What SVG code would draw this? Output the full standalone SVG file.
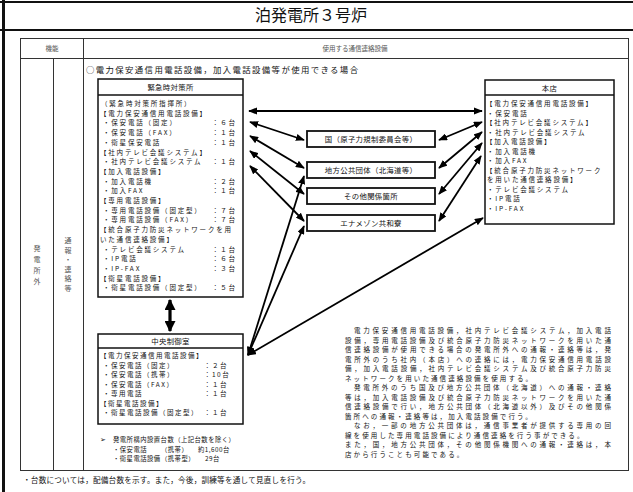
<svg xmlns="http://www.w3.org/2000/svg" width="633" height="492" viewBox="0 0 633 492">
<defs>
<marker id="ah" viewBox="0 0 10 8" refX="9" refY="4" markerWidth="9" markerHeight="7.2" markerUnits="userSpaceOnUse" orient="auto-start-reverse">
<path d="M0,0 L10,4 L0,8 z" fill="#000"/>
</marker>
<marker id="ahb" viewBox="0 0 10 10" refX="9" refY="5" markerWidth="11" markerHeight="11" markerUnits="userSpaceOnUse" orient="auto-start-reverse">
<path d="M0,0 L10,5 L0,10 z" fill="#000"/>
</marker>
<style>
text { font-family: "Noto Sans CJK JP", "Noto Sans", sans-serif; fill: #111; }
.s { font-size: 6.5px; letter-spacing: 1.8px; }
.c { font-size: 6.5px; letter-spacing: 1.5px; }
.n { font-size: 6.3px; letter-spacing: 0.5px; }
.p { font-size: 6.5px; letter-spacing: 2.1px; }
.lbl { font-size: 7.4px; text-anchor: middle; letter-spacing: 0.3px; }
.hd { font-size: 6.5px; fill: #555; text-anchor: middle; }
.vt { font-size: 7px; fill: #555; }
.box { fill: #fff; stroke: #111; stroke-width: 1.5; }
.mbox { fill: #fff; stroke: #111; stroke-width: 1.8; }
.grid { fill: none; stroke: #333; stroke-width: 1; }
.arr { fill: none; stroke: #000; stroke-width: 1.8; marker-start: url(#ah); marker-end: url(#ah); }
</style>
</defs>
<rect x="0" y="0" width="633" height="492" fill="#fff"/>

<g id="frame">
<line x1="0" y1="2" x2="633" y2="2" stroke="#111" stroke-width="2"/>
<line x1="0" y1="30" x2="633" y2="30" stroke="#111" stroke-width="2.2"/>
<line x1="3.5" y1="0" x2="3.5" y2="492" stroke="#111" stroke-width="3"/>
<text x="311" y="21" font-size="16" text-anchor="middle">泊発電所３号炉</text>
</g>

<g id="table">
<rect class="grid" x="20.5" y="38.5" width="608" height="432"/>
<line class="grid" x1="20.5" y1="58.5" x2="628.5" y2="58.5"/>
<line class="grid" x1="83.5" y1="38.5" x2="83.5" y2="470.5"/>
<line class="grid" x1="53.5" y1="58.5" x2="53.5" y2="470.5"/>
<text class="hd" x="52" y="51">機能</text>
<text class="hd" x="355" y="51">使用する通信連絡設備</text>
<text class="vt" x="37" y="245" writing-mode="tb" letter-spacing="4">発電所外</text>
<text class="vt" x="68" y="237" writing-mode="tb" letter-spacing="2.5">通報・連絡等</text>
<text x="86" y="73" font-size="8.4" textLength="272" lengthAdjust="spacing">○電力保安通信用電話設備，加入電話設備等が使用できる場合</text>
<text x="23" y="483" font-size="7.6" textLength="287" lengthAdjust="spacing">・台数については，配備台数を示す。また，今後，訓練等を通して見直しを行う。</text>
</g>

<g id="node-kinkyu">
<rect class="box" x="98" y="79" width="145" height="218"/>
<line x1="98" y1="95" x2="243" y2="95" stroke="#111" stroke-width="1.5"/>
<text class="lbl" x="170.5" y="90">緊急時対策所</text>
<text class="s" x="101" y="106">（緊急時対策所指揮所）</text>
<text class="s" x="100" y="115.7">【電力保安通信用電話設備】</text>
<text class="s" x="103" y="125.4">・保安電話（固定）</text><text class="s" x="212" y="125.4">：６台</text>
<text class="s" x="103" y="135.1">・保安電話（FAX）</text><text class="s" x="212" y="135.1">：１台</text>
<text class="s" x="103" y="144.8">・衛星保安電話</text><text class="s" x="212" y="144.8">：１台</text>
<text class="s" x="100" y="154.5">【社内テレビ会議システム】</text>
<text class="s" x="103" y="164.2">・社内テレビ会議システム</text><text class="s" x="212" y="164.2">：１台</text>
<text class="s" x="100" y="173.9">【加入電話設備】</text>
<text class="s" x="103" y="183.6">・加入電話機</text><text class="s" x="212" y="183.6">：２台</text>
<text class="s" x="103" y="193.3">・加入FAX</text><text class="s" x="212" y="193.3">：１台</text>
<text class="s" x="100" y="203">【専用電話設備】</text>
<text class="s" x="103" y="212.7">・専用電話設備（固定型）</text><text class="s" x="212" y="212.7">：７台</text>
<text class="s" x="103" y="222.4">・専用電話設備（FAX）</text><text class="s" x="212" y="222.4">：７台</text>
<text class="s" x="100" y="232.1">【統合原子力防災ネットワークを用</text>
<text class="s" x="100" y="241.8">いた通信連絡設備】</text>
<text class="s" x="103" y="251.5">・テレビ会議システム</text><text class="s" x="212" y="251.5">：１台</text>
<text class="s" x="103" y="261.2">・IP電話</text><text class="s" x="212" y="261.2">：６台</text>
<text class="s" x="103" y="270.9">・IP-FAX</text><text class="s" x="212" y="270.9">：３台</text>
<text class="s" x="100" y="280.6">【衛星電話設備】</text>
<text class="s" x="103" y="290.3">・衛星電話設備（固定型）</text><text class="s" x="212" y="290.3">：５台</text>
</g>

<g id="node-chuo">
<rect class="box" x="98" y="334" width="145" height="90"/>
<line x1="98" y1="348" x2="243" y2="348" stroke="#111" stroke-width="1.5"/>
<text class="lbl" x="170.5" y="344">中央制御室</text>
<text class="c" x="100" y="358">【電力保安通信用電話設備】</text>
<text class="c" x="103" y="367.5">・保安電話（固定）</text><text class="c" x="204" y="367.5">：２台</text>
<text class="c" x="103" y="377">・保安電話（携帯）</text><text class="c" x="204" y="377">：10台</text>
<text class="c" x="103" y="386.5">・保安電話（FAX）</text><text class="c" x="204" y="386.5">：１台</text>
<text class="c" x="103" y="396">・専用電話</text><text class="c" x="204" y="396">：１台</text>
<text class="c" x="100" y="405.5">【衛星電話設備】</text>
<text class="c" x="103" y="415">・衛星電話設備（固定型）</text><text class="c" x="204" y="415">：１台</text>
</g>

<g id="note-kounai">
<text x="100" y="442" font-size="7" font-family="DejaVu Sans, sans-serif">➢</text>
<text class="n" x="113" y="442">発電所構内設置台数（上記台数を除く）</text>
<text class="n" x="113" y="451.5">・保安電話</text><text class="n" x="161" y="451.5">（携帯）</text><text class="n" x="198" y="451.5">約1,600台</text>
<text class="n" x="113" y="461">・衛星電話設備</text><text class="n" x="161" y="461">（携帯型）</text><text class="n" x="205" y="461">29台</text>
</g>

<g id="node-honten">
<rect class="box" x="485" y="80" width="129" height="144"/>
<line x1="485" y1="95" x2="614" y2="95" stroke="#111" stroke-width="1.5"/>
<text class="lbl" x="549.5" y="90.5">本店</text>
<text class="s" x="486" y="106">【電力保安通信用電話設備】</text>
<text class="s" x="487" y="115.5">・保安電話</text>
<text class="s" x="486" y="125">【社内テレビ会議システム】</text>
<text class="s" x="487" y="134.5">・社内テレビ会議システム</text>
<text class="s" x="486" y="144">【加入電話設備】</text>
<text class="s" x="487" y="153.5">・加入電話機</text>
<text class="s" x="487" y="163">・加入FAX</text>
<text class="s" x="486" y="172.5">【統合原子力防災ネットワーク</text>
<text class="s" x="487" y="182">を用いた通信連絡設備】</text>
<text class="s" x="487" y="191.5">・テレビ会議システム</text>
<text class="s" x="487" y="201">・IP電話</text>
<text class="s" x="487" y="210.5">・IP-FAX</text>
</g>

<g id="node-kuni">
<rect class="mbox" x="307" y="131" width="128" height="16"/>
<text class="lbl" x="371" y="141.8">国（原子力規制委員会等）</text>
</g>
<g id="node-chiho">
<rect class="mbox" x="307" y="162" width="128" height="16"/>
<text class="lbl" x="371" y="172.8">地方公共団体（北海道等）</text>
</g>
<g id="node-sonota">
<rect class="mbox" x="307" y="188" width="128" height="16"/>
<text class="lbl" x="371" y="198.8">その他関係箇所</text>
</g>
<g id="node-ena">
<rect class="mbox" x="307" y="215" width="128" height="16"/>
<text class="lbl" x="371" y="225.8">エナメゾン共和寮</text>
</g>

<g id="paragraph">
<text class="p" x="354" y="333" textLength="259" lengthAdjust="spacing">電力保安通信用電話設備，社内テレビ会議システム，加入電話</text>
<text class="p" x="345" y="342.5" textLength="268" lengthAdjust="spacing">設備，専用電話設備及び統合原子力防災ネットワークを用いた通</text>
<text class="p" x="345" y="352" textLength="268" lengthAdjust="spacing">信連絡設備が使用できる場合の発電所外への通報・連絡等は，発</text>
<text class="p" x="345" y="361.5" textLength="268" lengthAdjust="spacing">電所外のうち社内（本店）への連絡には，電力保安通信用電話設</text>
<text class="p" x="345" y="371" textLength="268" lengthAdjust="spacing">備，加入電話設備，社内テレビ会議システム及び統合原子力防災</text>
<text class="p" x="345" y="380.5">ネットワークを用いた通信連絡設備を使用する。</text>
<text class="p" x="354" y="390" textLength="259" lengthAdjust="spacing">発電所外のうち国及び地方公共団体（北海道）への通報・連絡</text>
<text class="p" x="345" y="399.5" textLength="268" lengthAdjust="spacing">等は，加入電話設備及び統合原子力防災ネットワークを用いた通</text>
<text class="p" x="345" y="409" textLength="268" lengthAdjust="spacing">信連絡設備で行い，地方公共団体（北海道以外）及びその他関係</text>
<text class="p" x="345" y="418.5">箇所への通報・連絡等は，加入電話設備で行う。</text>
<text class="p" x="354" y="428" textLength="259" lengthAdjust="spacing">なお，一部の地方公共団体は，通信事業者が提供する専用の回</text>
<text class="p" x="345" y="437.5">線を使用した専用電話設備により通信連絡を行う事ができる。</text>
<text class="p" x="345" y="447" textLength="268" lengthAdjust="spacing">また，国，地方公共団体，その他関係機関への通報・連絡は，本</text>
<text class="p" x="345" y="456.5">店から行うことも可能である。</text>
</g>

<g id="connectors">
<line class="arr" x1="249" y1="111" x2="482" y2="111"/>
<line class="arr" x1="250" y1="122" x2="304" y2="140"/>
<line class="arr" x1="250" y1="136" x2="304" y2="168"/>
<line class="arr" x1="250" y1="151" x2="304" y2="194"/>
<line class="arr" x1="250" y1="166" x2="304" y2="221"/>
<line class="arr" x1="439" y1="140" x2="482" y2="122"/>
<line class="arr" x1="439" y1="168" x2="482" y2="132"/>
<line class="arr" x1="439" y1="194" x2="482" y2="143"/>
<line class="arr" x1="439" y1="221" x2="481" y2="156"/>
<line class="arr" x1="248" y1="355" x2="304" y2="176"/>
<line class="arr" x1="248" y1="355" x2="304" y2="226"/>
<line class="arr" x1="248" y1="355" x2="483" y2="218"/>
<line x1="170" y1="300" x2="170" y2="331" stroke="#000" stroke-width="3.2" marker-start="url(#ahb)" marker-end="url(#ahb)"/>
</g>
</svg>
